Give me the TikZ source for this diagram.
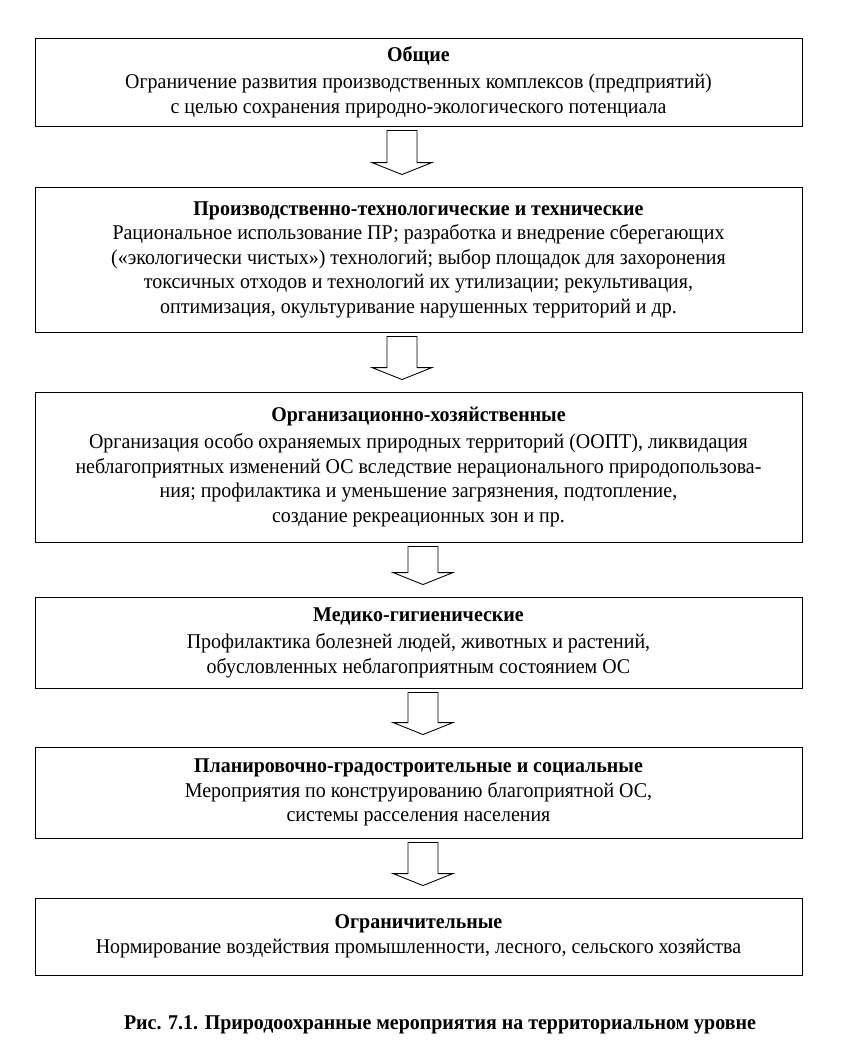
\documentclass[tikz,border=0pt]{standalone}
\usepackage{fontspec}
\setmainfont[FakeStretch=0.95]{Liberation Serif}
\usetikzlibrary{calc}
\tikzset{
  box/.style={draw, line width=0.9pt, minimum width=767pt, inner sep=0pt, align=center,
    font=\fontsize{21}{24.5}\selectfont},
  blk/.style={draw, line width=0.9pt, fill=white},
  captext/.style={font=\fontsize{21}{24}\selectfont\bfseries}
}
\newcommand\blkarrow[3]{%
  \draw[blk] let \p1=(#1.south), \p2=(#2.north) in
   (#3pt-15pt,\y1-4pt) -- (#3pt+15pt,\y1-4pt) -- (#3pt+15pt,\y2+24pt) -- (#3pt+30pt,\y2+24pt)
   -- (#3pt,\y2+12pt) -- (#3pt-30pt,\y2+24pt) -- (#3pt-15pt,\y2+24pt) -- cycle;}
\begin{document}
\begin{tikzpicture}[x=1pt,y=1pt]
\useasboundingbox (0,0) rectangle (844,-1060);
\node[box, minimum height=88pt] (b1) at (418.5,-82)
  {\textbf{Общие}\\[3pt]Ограничение развития производственных комплексов (предприятий)\\с целью сохранения природно-экологического потенциала};
\node[box, minimum height=145pt] (b2) at (418.5,-259.5)
  {\textbf{Производственно-технологические и технические}\\Рациональное использование ПР; разработка и внедрение сберегающих\\(«экологически чистых») технологий; выбор площадок для захоронения\\токсичных отходов и технологий их утилизации; рекультивация,\\оптимизация, окультуривание нарушенных территорий и др.};
\node[box, minimum height=150pt] (b3) at (418.5,-467)
  {\textbf{Организационно-хозяйственные}\\[3pt]Организация особо охраняемых природных территорий (ООПТ), ликвидация\\неблагоприятных изменений ОС вследствие нерационального природопользова-\\ния; профилактика и уменьшение загрязнения, подтопление,\\создание рекреационных зон и пр.};
\node[box, minimum height=91pt] (b4) at (418.5,-642.5)
  {\textbf{Медико-гигиенические}\\[3pt]Профилактика болезней людей, животных и растений,\\обусловленных неблагоприятным состоянием ОС};
\node[box, minimum height=91pt] (b5) at (418.5,-792.5)
  {\textbf{Планировочно-градостроительные и социальные}\\Мероприятия по конструированию благоприятной ОС,\\системы расселения населения};
\node[box, minimum height=77pt] (b6) at (418.5,-936.5)
  {\textbf{Ограничительные}\\Нормирование воздействия промышленности, лесного, сельского хозяйства};
\blkarrow{b1}{b2}{402}
\blkarrow{b2}{b3}{402}
\blkarrow{b3}{b4}{423}
\blkarrow{b4}{b5}{423}
\blkarrow{b5}{b6}{423}
\node[captext] (caption) at (440,-1025) {Рис. 7.1. Природоохранные мероприятия на территориальном уровне};
\end{tikzpicture}
\end{document}
